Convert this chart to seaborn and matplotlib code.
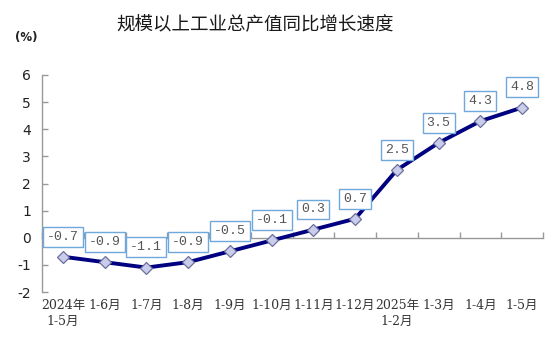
import matplotlib
matplotlib.use("Agg")
import matplotlib.pyplot as plt
import seaborn as sns
import numpy as np
import pandas as pd

categories = ["2024年\n1-5月", "1-6月", "1-7月", "1-8月", "1-9月", "1-10月",
              "1-11月", "1-12月", "2025年\n1-2月", "1-3月", "1-4月", "1-5月"]
values = [-0.7, -0.9, -1.1, -0.9, -0.5, -0.1, 0.3, 0.7, 2.5, 3.5, 4.3, 4.8]
y_ticks = [-2, -1, 0, 1, 2, 3, 4, 5, 6]
title = "规模以上工业总产值同比增长速度"
unit = "(%)"

sns.set_theme(style="white")
plt.rcParams['font.family'] = ['DejaVu Sans', 'Noto Sans CJK SC']

df = pd.DataFrame({"x": np.arange(len(categories)), "y": values})

fig = plt.figure(figsize=(5.6, 3.55), dpi=100)
ax = fig.add_axes([42/560, 1-292/355, (543-42)/560, (292-75)/355])

sns.lineplot(data=df, x="x", y="y", ax=ax, color="#000080", linewidth=2.8,
             marker="D", markersize=6.5, markerfacecolor="#C9CDEB",
             markeredgecolor="#6B6F9A", markeredgewidth=0.9, zorder=3)

ax.set_xlim(-0.5, len(categories) - 0.5)
ax.set_ylim(-2, 6)
ax.set_xlabel("")
ax.set_ylabel("")

for s in ["top", "right"]:
    ax.spines[s].set_visible(False)
ax.spines["left"].set_color("#999999")
ax.spines["left"].set_linewidth(1.0)
ax.spines["bottom"].set_position(("data", 0))
ax.spines["bottom"].set_color("#999999")
ax.spines["bottom"].set_linewidth(1.0)

ax.set_yticks(y_ticks)
ax.set_yticklabels([str(t) for t in y_ticks], fontsize=10, color="#222222",
                   family=['DejaVu Sans'])
ax.tick_params(axis="y", direction="in", length=4, width=1, color="#999999",
               left=True, pad=8)

ax.set_xticks(np.arange(len(categories)))
ax.set_xticklabels(categories, fontsize=9, color="#333333",
                   family=['DejaVu Serif', 'Noto Sans CJK SC'], linespacing=1.3)
ax.set_xticks(np.arange(-0.5, len(categories), 1), minor=True)
ax.tick_params(axis="x", which="major", length=0, pad=44, bottom=True)
ax.tick_params(axis="x", which="minor", direction="in", length=4, width=1,
               color="#999999", bottom=True)

for i, v in enumerate(values):
    ax.annotate(f"{v:.1f}", xy=(i, v), xytext=(0, 14.5), textcoords="offset points",
                ha="center", va="center", fontsize=9.5, color="#555555",
                family=['Liberation Mono'],
                bbox=dict(boxstyle="square,pad=0.3", fc="white", ec="#6FA8DC", lw=1.0),
                zorder=4)

fig.text(255/560, 1-25/355, title, ha="center", va="center", fontsize=13.3,
         color="#1a1a1a", family=['Noto Sans CJK SC'])
fig.text(26/560, 1-37/355, unit, ha="center", va="center", fontsize=8.5,
         fontweight="bold", color="#222222")

fig.savefig("out.png", dpi=100)
